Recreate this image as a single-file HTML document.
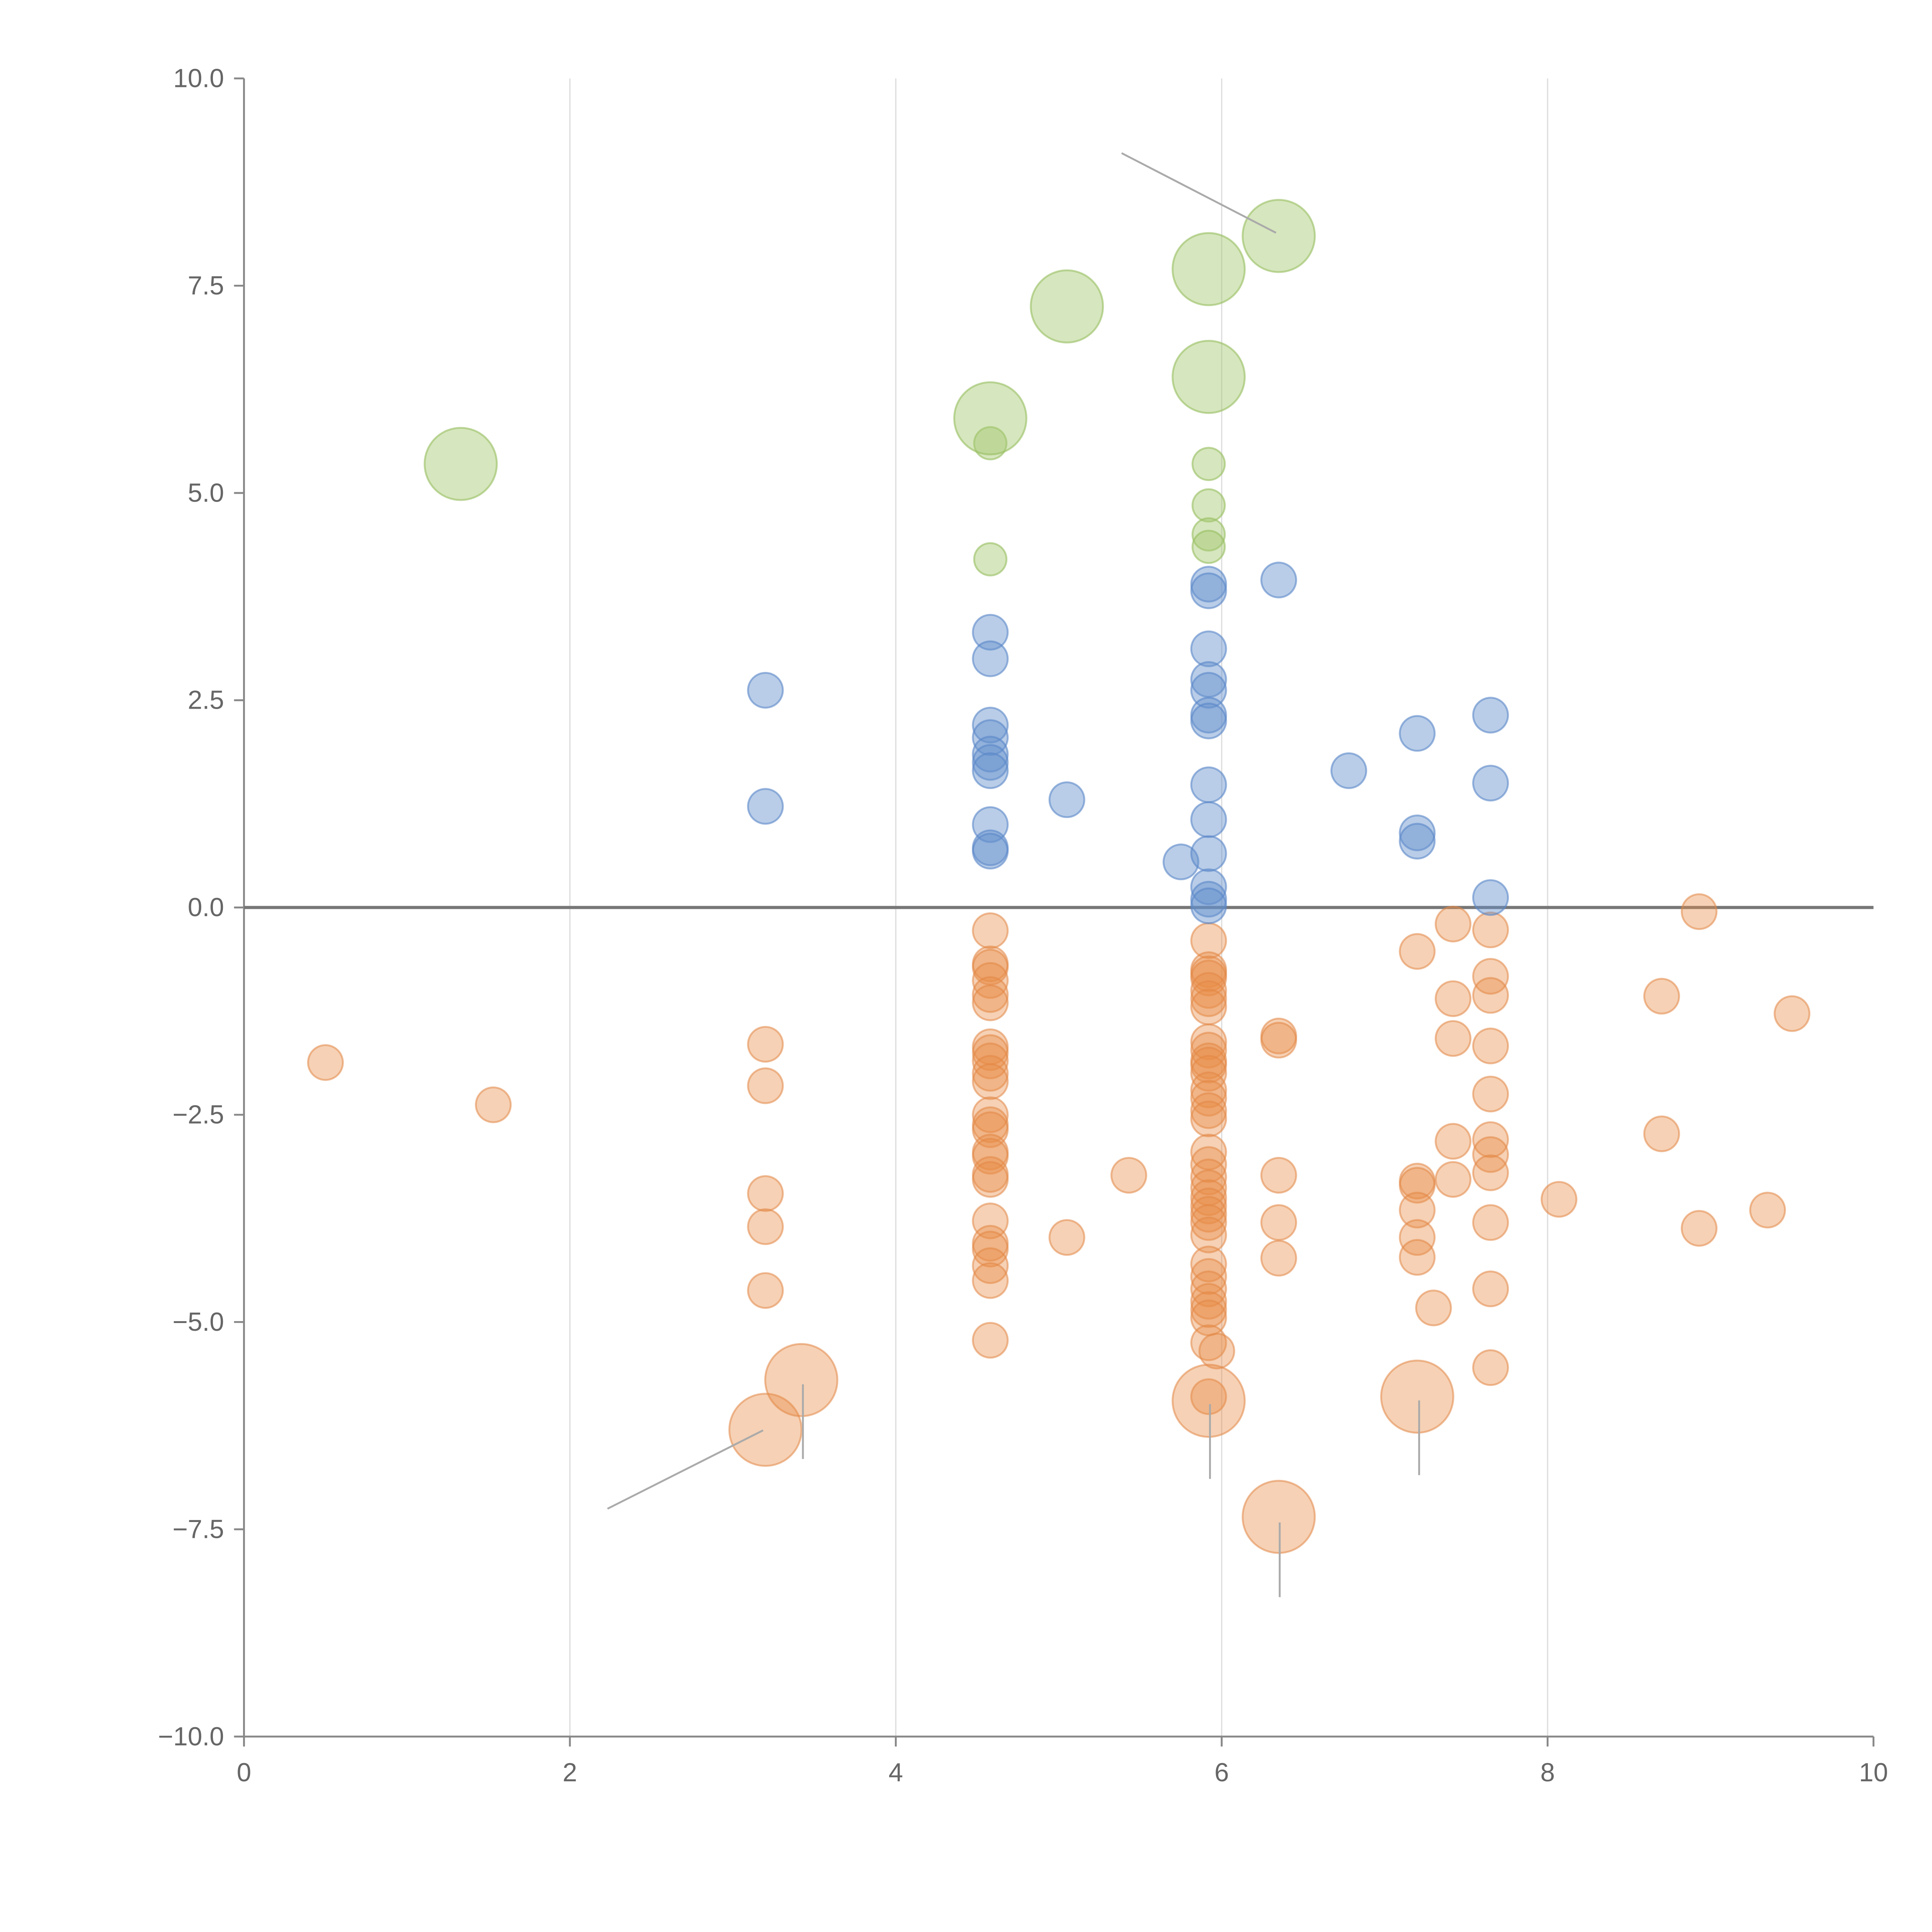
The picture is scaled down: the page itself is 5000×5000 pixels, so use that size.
<!DOCTYPE html>
<html><head><meta charset="utf-8"><style>
html,body{margin:0;padding:0;background:#fff;}
svg{display:block;}
text{font-family:"Liberation Sans",sans-serif;fill:#666;font-size:21px;}
</style></head><body>
<svg id="chart" width="5000" height="5000" viewBox="0 0 1552 1552" xmlns="http://www.w3.org/2000/svg">
<g id="grid"></g>
<g id="axes"></g>
<g id="marks"></g>
<g id="ann"></g>
</svg>
<script>
const xTicks=[0,2,4,6,8,10];
const yTicks=[10,7.5,5,2.5,0,-2.5,-5,-7.5,-10];
const yTickLabels=["10.0","7.5","5.0","2.5","0.0","\u22122.5","\u22125.0","\u22127.5","\u221210.0"];
const greenBigX=[1.33,4.58,5.05,5.92,5.92,6.35];
const greenBigY=[5.35,5.9,7.25,7.7,6.4,8.1];
const greenX=[4.58,4.58,5.92,5.92,5.92,5.92];
const greenY=[5.6,4.2,5.35,4.85,4.5,4.35];
const blueX=[3.2,3.2,4.58,4.58,4.58,4.58,4.58,4.58,4.58,4.58,4.58,4.58,5.05,5.75,5.92,5.92,5.92,5.92,5.92,5.92,5.92,5.92,5.92,5.92,5.92,5.92,5.92,6.35,6.78,7.2,7.2,7.2,7.65,7.65,7.65];
const blueY=[2.62,1.22,3.32,3.0,2.2,2.05,1.85,1.75,1.65,1.0,0.72,0.68,1.3,0.55,3.9,3.82,3.12,2.75,2.62,2.32,2.25,1.48,1.06,0.65,0.25,0.1,0.02,3.95,1.65,2.1,0.9,0.8,2.32,1.5,0.12];
const orangeX=[0.5,1.53,3.2,3.2,3.2,3.2,3.2,
4.58,4.58,4.58,4.58,4.58,4.58,4.58,4.58,4.58,4.58,4.58,4.58,4.58,4.58,4.58,4.58,4.58,4.58,4.58,4.58,4.58,4.58,4.58,4.58,
5.05,5.43,
5.92,5.92,5.92,5.92,5.92,5.92,5.92,5.92,5.92,5.92,5.92,5.92,5.92,5.92,5.92,5.92,5.92,5.92,5.92,5.92,5.92,5.92,5.92,5.92,5.92,5.92,5.92,5.92,5.92,5.92,5.92,5.92,5.92,5.97,
6.35,6.35,6.35,6.35,6.35,
7.2,7.2,7.2,7.2,7.2,7.2,7.3,
7.42,7.42,7.42,7.42,7.42,
7.65,7.65,7.65,7.65,7.65,7.65,7.65,7.65,7.65,7.65,7.65,
8.07,8.7,8.7,8.93,8.93,9.35,9.5];
const orangeY=[-1.87,-2.38,-1.65,-2.15,-3.45,-3.85,-4.62,
-0.28,-0.68,-0.72,-0.88,-1.05,-1.15,-1.68,-1.75,-1.85,-2.0,-2.1,-2.5,-2.62,-2.68,-2.95,-3.0,-3.22,-3.28,-3.78,-4.05,-4.12,-4.32,-4.5,-5.22,
-3.98,-3.23,
-0.4,-0.75,-0.8,-0.85,-1.0,-1.1,-1.2,-1.62,-1.72,-1.85,-1.9,-2.0,-2.2,-2.3,-2.45,-2.55,-2.95,-3.1,-3.25,-3.38,-3.5,-3.6,-3.7,-3.8,-3.95,-4.3,-4.45,-4.6,-4.75,-4.85,-4.95,-5.25,-5.9,-5.35,
-1.55,-1.6,-3.23,-3.8,-4.23,
-0.53,-3.3,-3.35,-3.65,-3.98,-4.22,-4.83,
-0.2,-1.1,-1.58,-2.82,-3.28,
-0.27,-0.83,-1.06,-1.67,-2.25,-2.8,-2.98,-3.2,-3.8,-4.6,-5.55,
-3.52,-1.07,-2.73,-0.05,-3.87,-3.65,-1.28];
const orangeBigX=[3.2,3.42,5.92,7.2,6.35];
const orangeBigY=[-6.3,-5.7,-5.95,-5.9,-7.35];

const X0=196,X1=1505,Y0=1395,Y1=63;
const sx=v=>X0+(v-0)/(10-0)*(X1-X0);
const sy=v=>Y0-(v-(-10))/(20)*(Y0-Y1);
const NS="http://www.w3.org/2000/svg";
function mk(tag,attrs,parent){const e=document.createElementNS(NS,tag);for(const k in attrs)e.setAttribute(k,attrs[k]);parent.appendChild(e);return e;}
const grid=document.getElementById('grid'),axes=document.getElementById('axes'),marks=document.getElementById('marks'),ann=document.getElementById('ann');
xTicks.forEach(t=>{
  if(t>0&&t<10){const l=mk('line',{x1:sx(t),x2:sx(t),y1:Y1,y2:Y0,stroke:'#ddd','stroke-width':1},grid);
  
  }
  const tk=mk('line',{x1:sx(t),x2:sx(t),y1:Y0,y2:Y0+8,stroke:'#888','stroke-width':1.5},axes);
  
  
  const tx=mk('text',{x:sx(t),y:Y0+36,'text-anchor':'middle'},axes);tx.textContent=t;
  
  
});
yTicks.forEach((t,i)=>{
  const tk=mk('line',{x1:X0-8,x2:X0,y1:sy(t),y2:sy(t),stroke:'#888','stroke-width':1.5},axes);
  
  
  const tx=mk('text',{x:X0-16,y:sy(t)+7,'text-anchor':'end'},axes);tx.textContent=yTickLabels[i];
  
  
});
const ya=mk('line',{x1:X0,x2:X0,y1:Y1,y2:Y0,stroke:'#888','stroke-width':1.5},axes);


const xa=mk('line',{x1:X0,x2:X1,y1:Y0,y2:Y0,stroke:'#888','stroke-width':1.5},axes);


const zl=mk('line',{x1:X0,x2:X1,y1:sy(0),y2:sy(0),stroke:'#777','stroke-width':2.5},axes);



function series(xs,ys,r,fill,stroke,name){
  xs.forEach((x,i)=>{
    const c=mk('circle',{cx:sx(x),cy:sy(ys[i]),r:r,fill:fill,stroke:stroke,'stroke-width':1.5},marks);
    
    
  });
}
series(orangeX,orangeY,14,'rgba(232,140,70,0.4)','rgba(225,135,70,0.55)','orange-point');
series(orangeBigX,orangeBigY,29,'rgba(232,140,70,0.4)','rgba(225,135,70,0.55)','orange-big-point');
series(blueX,blueY,14,'rgba(100,145,205,0.45)','rgba(90,135,200,0.6)','blue-point');
series(greenX,greenY,13,'rgba(165,200,110,0.45)','rgba(150,190,95,0.6)','green-point');
series(greenBigX,greenBigY,29,'rgba(165,200,110,0.45)','rgba(150,190,95,0.6)','green-big-point');

const annLines=[[901,123,1025,187],[488,1212,613,1149],[645,1112,645,1172],[972,1128,972,1188],[1140,1125,1140,1185],[1028,1223,1028,1283]];
annLines.forEach(a=>{
  const l=mk('line',{x1:a[0],y1:a[1],x2:a[2],y2:a[3],stroke:'#aaa','stroke-width':1.5},ann);
  
  
});
</script>
</body></html>
